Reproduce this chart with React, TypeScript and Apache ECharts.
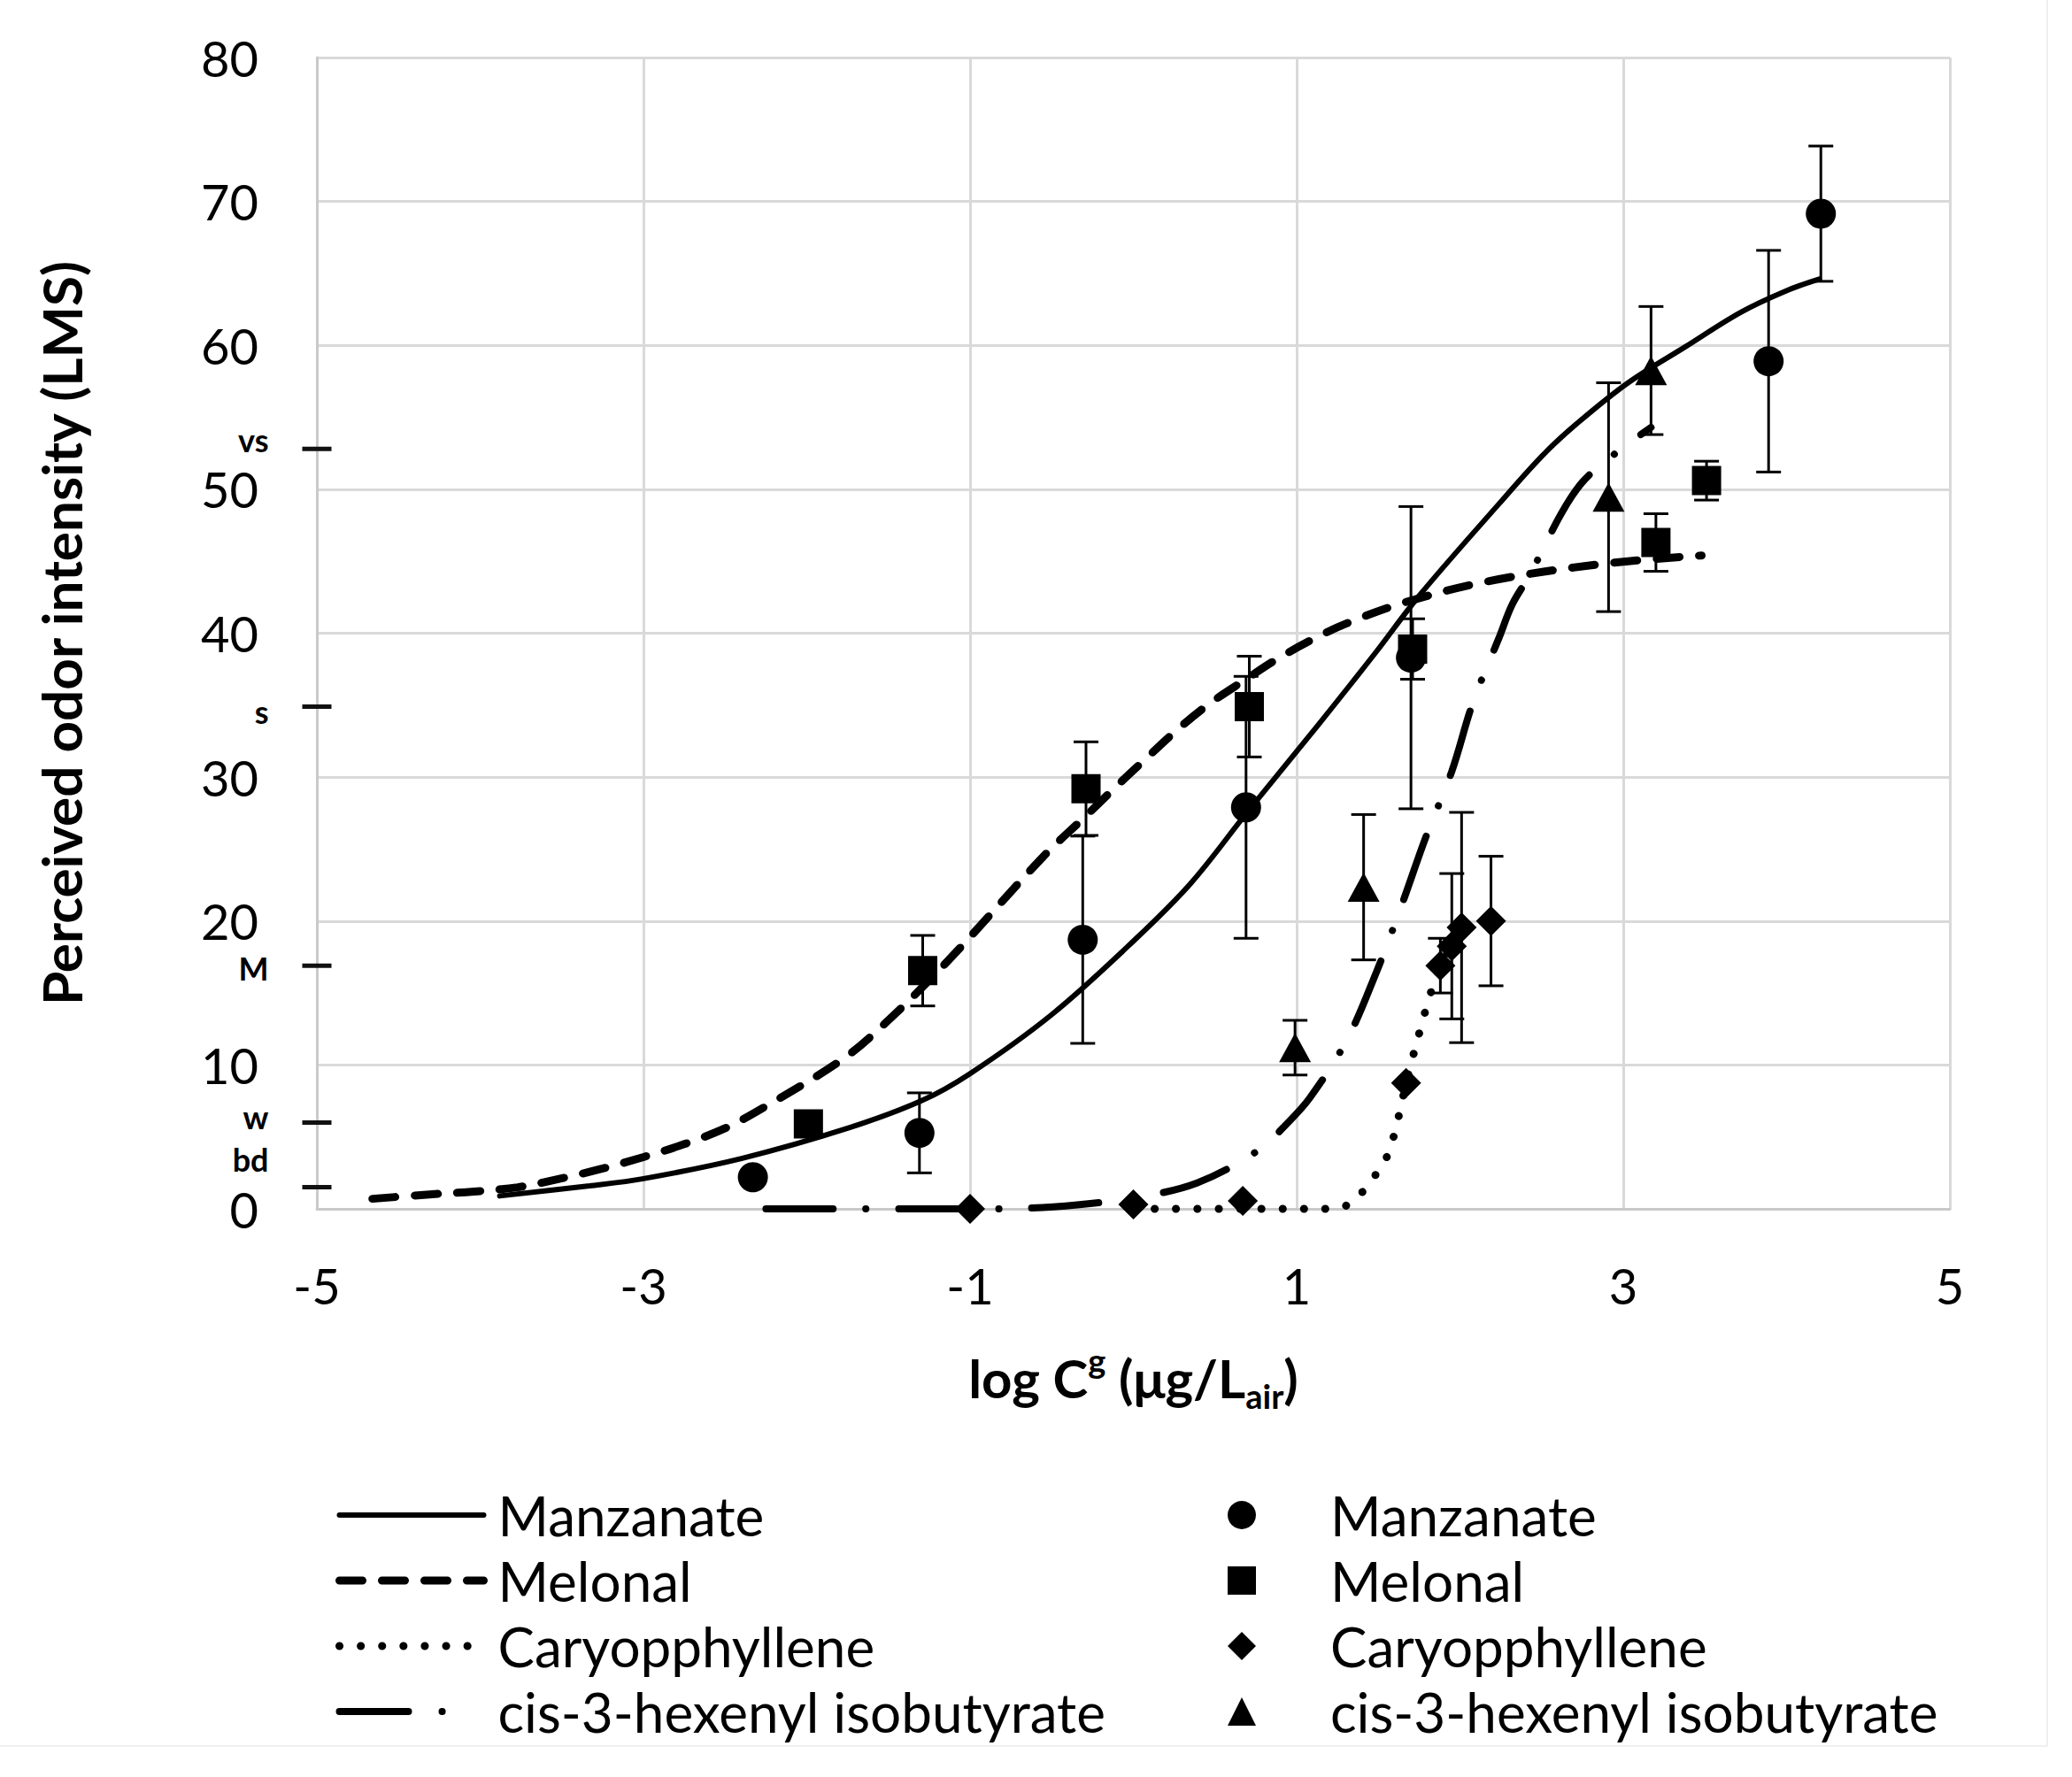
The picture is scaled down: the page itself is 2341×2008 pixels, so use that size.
import React, { useEffect, useRef } from "react";
import * as echarts from "echarts";

const W = 2341;
const H = 2008;
const FONT = "Lato, 'Open Sans', sans-serif";

const compounds = ["Manzanate", "Melonal", "Caryopphyllene", "cis-3-hexenyl isobutyrate"];
const DATA_SUFFIX = " (data)";

// Fitted curves: [log C, perceived intensity]
const manzanateCurve = [
  [-3.88, 0.9], [-3.33, 1.6], [-3.0, 2.1], [-2.4, 3.5], [-1.75, 5.6], [-1.3, 7.5],
  [-1.0, 9.4], [-0.5, 13.5], [0.0, 18.6], [0.35, 22.6], [0.7, 27.6], [1.13, 33.6],
  [1.48, 38.6], [1.75, 42.6], [2.24, 49.0], [2.51, 52.4], [2.72, 54.6], [3.03, 57.4],
  [3.38, 59.9], [3.72, 62.3], [4.0, 63.8], [4.2, 64.6],
];
const melonalCurve = [
  [-4.66, 0.7], [-4.31, 1.0], [-4.04, 1.2], [-3.77, 1.5], [-3.51, 2.1], [-3.25, 2.8],
  [-3.0, 3.6], [-2.75, 4.5], [-2.5, 5.6], [-2.27, 7.0], [-1.78, 10.4], [-1.51, 13.0],
  [-1.13, 17.3], [-0.55, 24.5], [-0.3, 27.2], [-0.1, 29.4], [0.05, 31.0], [0.26, 33.2],
  [0.46, 35.05], [0.69, 36.8], [0.88, 38.2], [1.12, 39.7], [1.31, 40.7], [1.65, 42.1],
  [2.17, 43.6], [2.86, 44.8], [3.48, 45.4],
];
const caryoCurve = [
  [0.0, 0.0], [0.6, 0.0], [1.24, 0.0], [1.37, 0.8], [1.45, 1.9], [1.53, 3.1], [1.58, 4.5],
  [1.62, 6.2], [1.67, 8.7], [1.71, 10.5], [1.77, 13.0], [1.81, 14.6], [1.87, 16.6],
  [1.95, 18.3], [2.02, 19.5],
];
const hexenylCurve = [
  [-2.25, 0.0], [-1.0, 0.0], [-0.49, 0.14], [0.0, 0.77], [0.39, 1.8], [0.77, 4.1],
  [0.93, 5.8], [1.08, 7.7], [1.31, 11.8], [1.49, 16.5], [1.64, 21.0], [1.79, 25.8],
  [1.95, 30.4], [2.08, 35.2], [2.24, 39.7], [2.32, 42.0], [2.43, 44.1], [2.62, 48.3],
  [2.75, 50.5], [2.93, 52.3], [3.17, 54.3],
];

// Measured points: [log C, mean intensity, error]
const manzanatePoints = [
  [-2.33, 2.2, 0], [-1.31, 5.28, 2.78], [-0.31, 18.7, 7.2], [0.69, 27.9, 9.1],
  [1.7, 38.3, 10.5], [3.89, 58.9, 7.7], [4.21, 69.15, 4.7],
];
const melonalPoints = [
  [-1.99, 5.9, 0], [-1.29, 16.55, 2.45], [-0.29, 29.2, 3.25], [0.71, 34.9, 3.5],
  [1.71, 38.9, 2.1], [3.2, 46.3, 2.0], [3.51, 50.6, 1.35],
];
const caryoPoints = [
  [-1.0, 0.0, 0], [0.0, 0.3, 0], [0.67, 0.55, 0], [1.67, 8.75, 0], [1.88, 16.9, 1.9],
  [1.95, 18.25, 5.05], [2.01, 19.55, 8.0], [2.19, 20.0, 4.5],
];
const hexenylPoints = [
  [0.99, 11.2, 1.9], [1.41, 22.35, 5.05], [2.91, 49.45, 7.95], [3.17, 58.25, 4.45],
];

// LMS verbal anchors on the intensity axis
const lmsLabels = ["bd", "w", "M", "s", "vs"];
const lmsValues = [1.5, 6.0, 16.9, 34.9, 52.8];
const lmsLabelShift = [-32, -6, 3, 6, -10];

const lineStyles = [
  { width: 6, type: "solid", cap: "round" },
  { width: 9, type: [26, 22], cap: "round" },
  { width: 9, type: [0.1, 24], cap: "round" },
  { width: 8, type: [76, 37, 0.1, 37], cap: "round" },
];
const legendLineStyles = [
  lineStyles[0],
  lineStyles[1],
  lineStyles[2],
  { width: 8, type: [78, 38, 0.1, 80], cap: "round" },
];
const curves = [manzanateCurve, melonalCurve, caryoCurve, hexenylCurve];
const points = [manzanatePoints, melonalPoints, caryoPoints, hexenylPoints];
const symbols = ["circle", "rect", "diamond", "triangle"];
const symbolSizes: any[] = [34, 33, 34, [36, 33]];

export default function App() {
  const ref = useRef<HTMLDivElement>(null);

  useEffect(() => {
    if (!ref.current) return;
    const chart = echarts.init(ref.current, undefined, { renderer: "svg", width: W, height: H });

    const lineSeries = compounds.map((name, i) => ({
      name,
      type: "line",
      data: curves[i],
      smooth: 0.35,
      symbol: "none",
      showSymbol: false,
      clip: false,
      z: 3,
      lineStyle: { color: "#000", ...lineStyles[i] },
      itemStyle: { color: "#000" },
    }));

    const errorSeries = compounds.map((name, i) => ({
      name: name + " err",
      type: "custom",
      data: points[i].filter((p) => p[2] > 0),
      encode: { x: 0, y: 1 },
      clip: false,
      z: 2,
      silent: true,
      renderItem: (params: any, api: any) => {
        const x = api.value(0);
        const y = api.value(1);
        const e = api.value(2);
        const top = api.coord([x, y + e]);
        const bot = api.coord([x, y - e]);
        const cw = 14;
        const st = { stroke: "#000", lineWidth: 3 };
        return {
          type: "group",
          children: [
            { type: "line", shape: { x1: top[0], y1: top[1], x2: bot[0], y2: bot[1] }, style: st },
            { type: "line", shape: { x1: top[0] - cw, y1: top[1], x2: top[0] + cw, y2: top[1] }, style: st },
            { type: "line", shape: { x1: bot[0] - cw, y1: bot[1], x2: bot[0] + cw, y2: bot[1] }, style: st },
          ],
        };
      },
    }));

    const scatterSeries = compounds.map((name, i) => ({
      name: name + DATA_SUFFIX,
      type: "scatter",
      data: points[i].map((p) => [p[0], p[1]]),
      symbol: symbols[i],
      symbolSize: symbolSizes[i],
      clip: false,
      z: 4,
      itemStyle: { color: "#000", opacity: 1 },
    }));

    const lmsSeries = {
      name: "LMS",
      type: "scatter",
      data: lmsValues.map((v, i) => ({
        value: [-5, v],
        label: { offset: [0, lmsLabelShift[i]] },
      })),
      symbol: "rect",
      symbolSize: [33, 5],
      clip: false,
      z: 5,
      silent: true,
      itemStyle: { color: "#111", opacity: 1 },
      label: {
        show: true,
        position: "left",
        distance: 38,
        formatter: (p: any) => lmsLabels[p.dataIndex],
        fontFamily: FONT,
        fontWeight: "bold",
        fontSize: 36,
        lineHeight: 30,
        color: "#000",
      },
    };

    const legendText = { fontFamily: FONT, fontSize: 62, color: "#000", lineHeight: 64 };

    chart.setOption({
      animation: false,
      backgroundColor: "#fff",
      grid: { left: 358, right: 138, top: 65, bottom: 642, containLabel: false },
      xAxis: {
        type: "value",
        min: -5,
        max: 5,
        interval: 2,
        name: "log C{sup|g} (μg/L{sub|air})",
        nameLocation: "middle",
        nameGap: 152,
        nameTextStyle: {
          fontFamily: FONT,
          fontWeight: "bold",
          fontSize: 60,
          color: "#000",
          lineHeight: 78,
          rich: {
            sup: { fontFamily: FONT, fontWeight: "bold", fontSize: 38, verticalAlign: "top", lineHeight: 44 },
            sub: { fontFamily: FONT, fontWeight: "bold", fontSize: 38, verticalAlign: "bottom", lineHeight: 44 },
          },
        },
        axisLine: { show: true, onZero: false, lineStyle: { color: "#c9c9c9", width: 3 } },
        axisTick: { show: false },
        splitLine: { show: true, lineStyle: { color: "#d9d9d9", width: 3 } },
        axisLabel: { fontFamily: FONT, fontSize: 56, color: "#000", margin: 58 },
      },
      yAxis: {
        type: "value",
        min: 0,
        max: 80,
        interval: 10,
        name: "Perceived odor intensity (LMS)",
        nameLocation: "middle",
        nameRotate: 90,
        nameGap: 258,
        nameTextStyle: { fontFamily: FONT, fontWeight: "bold", fontSize: 62, color: "#000" },
        axisLine: { show: true, onZero: false, lineStyle: { color: "#c9c9c9", width: 3 } },
        axisTick: { show: false },
        splitLine: { show: true, lineStyle: { color: "#d9d9d9", width: 3 } },
        axisLabel: { fontFamily: FONT, fontSize: 56, lineHeight: 42, color: "#000", margin: 66 },
      },
      legend: [
        {
          data: compounds.map((name, i) => ({
            name,
            itemStyle: { opacity: 0 },
            lineStyle: { color: "#000", ...legendLineStyles[i] },
          })),
          orient: "vertical",
          left: 379,
          top: 1680,
          padding: 0,
          itemGap: 10,
          itemWidth: 163,
          itemHeight: 30,
          selectedMode: false,
          textStyle: { ...legendText, padding: [0, 0, 0, 11] },
        },
        {
          data: compounds.map((c) => c + DATA_SUFFIX),
          orient: "vertical",
          left: 1387,
          top: 1680,
          padding: 0,
          itemGap: 10,
          itemWidth: 32,
          itemHeight: 32,
          selectedMode: false,
          formatter: (n: string) => n.replace(DATA_SUFFIX, ""),
          textStyle: { ...legendText, padding: [0, 0, 0, 79] },
        },
      ],
      graphic: [
        {
          type: "rect",
          shape: { x: -2, y: -2, width: 2315, height: 1975 },
          style: { fill: "none", stroke: "#efefef", lineWidth: 2 },
          silent: true,
          z: -1,
        },
      ],
      series: [...lineSeries, ...errorSeries, ...scatterSeries, lmsSeries],
    });

    return () => chart.dispose();
  }, []);

  return (
    <div
      ref={ref}
      style={{ position: "fixed", left: 0, top: 0, width: W, height: H, background: "#fff" }}
    />
  );
}
